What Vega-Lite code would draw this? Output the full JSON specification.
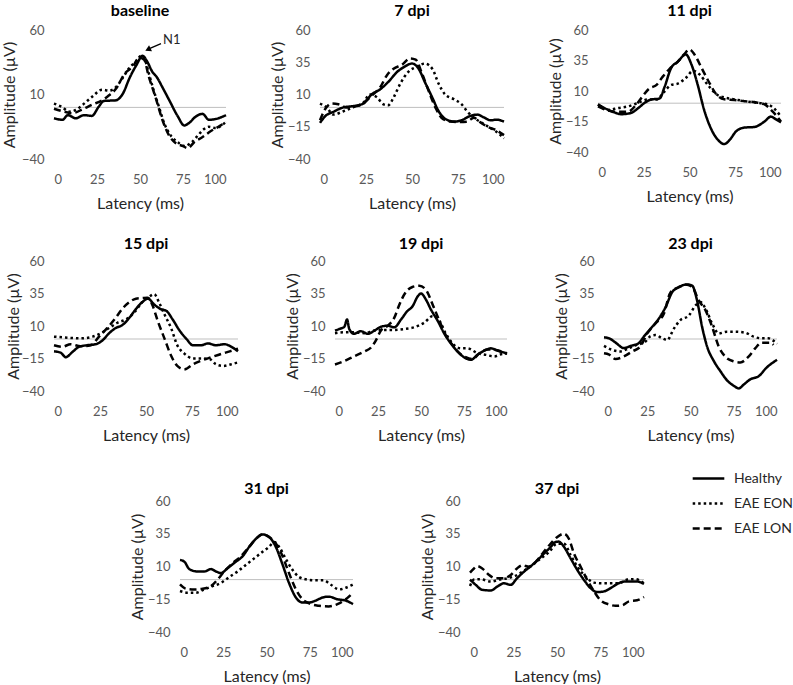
{
"$schema": "https://vega.github.io/schema/vega-lite/v6.json",
"padding": {"left": 1, "top": 3, "right": 0, "bottom": 0},
"background": "white",
"data": {"values": [
{"p":"baseline","g":"Healthy","x":0,"y":-8.4},{"p":"baseline","g":"Healthy","x":5,"y":-9.6},{"p":"baseline","g":"Healthy","x":8,"y":-6},{"p":"baseline","g":"Healthy","x":12.6,"y":-8.4},{"p":"baseline","g":"Healthy","x":17.5,"y":-6},{"p":"baseline","g":"Healthy","x":22,"y":-6.6},{"p":"baseline","g":"Healthy","x":26,"y":0.5},{"p":"baseline","g":"Healthy","x":29,"y":5},{"p":"baseline","g":"Healthy","x":36,"y":5.5},{"p":"baseline","g":"Healthy","x":40,"y":10.6},{"p":"baseline","g":"Healthy","x":44,"y":23},{"p":"baseline","g":"Healthy","x":48,"y":33},{"p":"baseline","g":"Healthy","x":51.5,"y":40},{"p":"baseline","g":"Healthy","x":54,"y":36},{"p":"baseline","g":"Healthy","x":57,"y":28},{"p":"baseline","g":"Healthy","x":60,"y":23},{"p":"baseline","g":"Healthy","x":63,"y":15.7},{"p":"baseline","g":"Healthy","x":67,"y":5.6},{"p":"baseline","g":"Healthy","x":72,"y":-7},{"p":"baseline","g":"Healthy","x":75.7,"y":-14},{"p":"baseline","g":"Healthy","x":78.6,"y":-12},{"p":"baseline","g":"Healthy","x":82.5,"y":-7},{"p":"baseline","g":"Healthy","x":86.4,"y":-5},{"p":"baseline","g":"Healthy","x":90,"y":-9.6},{"p":"baseline","g":"Healthy","x":94,"y":-9},{"p":"baseline","g":"Healthy","x":100,"y":-6},
{"p":"baseline","g":"EAE EON","x":0,"y":3},{"p":"baseline","g":"EAE EON","x":5,"y":0},{"p":"baseline","g":"EAE EON","x":8.7,"y":-3.3},{"p":"baseline","g":"EAE EON","x":12.6,"y":-2},{"p":"baseline","g":"EAE EON","x":16.5,"y":1.8},{"p":"baseline","g":"EAE EON","x":22,"y":8},{"p":"baseline","g":"EAE EON","x":28,"y":13.7},{"p":"baseline","g":"EAE EON","x":32,"y":13},{"p":"baseline","g":"EAE EON","x":36,"y":15.7},{"p":"baseline","g":"EAE EON","x":40,"y":23},{"p":"baseline","g":"EAE EON","x":44,"y":31},{"p":"baseline","g":"EAE EON","x":48,"y":36},{"p":"baseline","g":"EAE EON","x":50.5,"y":40},{"p":"baseline","g":"EAE EON","x":52.4,"y":38.5},{"p":"baseline","g":"EAE EON","x":55,"y":27},{"p":"baseline","g":"EAE EON","x":58,"y":13},{"p":"baseline","g":"EAE EON","x":61,"y":0.5},{"p":"baseline","g":"EAE EON","x":64,"y":-12},{"p":"baseline","g":"EAE EON","x":68,"y":-22},{"p":"baseline","g":"EAE EON","x":72,"y":-27},{"p":"baseline","g":"EAE EON","x":76,"y":-30},{"p":"baseline","g":"EAE EON","x":80,"y":-27},{"p":"baseline","g":"EAE EON","x":83.5,"y":-22},{"p":"baseline","g":"EAE EON","x":87,"y":-17},{"p":"baseline","g":"EAE EON","x":90,"y":-15},{"p":"baseline","g":"EAE EON","x":94,"y":-16},{"p":"baseline","g":"EAE EON","x":100,"y":-11},
{"p":"baseline","g":"EAE LON","x":0,"y":-1},{"p":"baseline","g":"EAE LON","x":5,"y":-3},{"p":"baseline","g":"EAE LON","x":10.7,"y":-4.5},{"p":"baseline","g":"EAE LON","x":16.5,"y":-1.5},{"p":"baseline","g":"EAE LON","x":22,"y":2},{"p":"baseline","g":"EAE LON","x":28,"y":5.5},{"p":"baseline","g":"EAE LON","x":32,"y":9.4},{"p":"baseline","g":"EAE LON","x":36,"y":14.4},{"p":"baseline","g":"EAE LON","x":41,"y":26},{"p":"baseline","g":"EAE LON","x":46,"y":32},{"p":"baseline","g":"EAE LON","x":49.5,"y":38.5},{"p":"baseline","g":"EAE LON","x":52.4,"y":37},{"p":"baseline","g":"EAE LON","x":55,"y":24.5},{"p":"baseline","g":"EAE LON","x":59,"y":8},{"p":"baseline","g":"EAE LON","x":63,"y":-9.6},{"p":"baseline","g":"EAE LON","x":67,"y":-22},{"p":"baseline","g":"EAE LON","x":71,"y":-28},{"p":"baseline","g":"EAE LON","x":75,"y":-30},{"p":"baseline","g":"EAE LON","x":77.7,"y":-31.6},{"p":"baseline","g":"EAE LON","x":81.5,"y":-27},{"p":"baseline","g":"EAE LON","x":86.4,"y":-23},{"p":"baseline","g":"EAE LON","x":91,"y":-18.5},{"p":"baseline","g":"EAE LON","x":96,"y":-14.7},{"p":"baseline","g":"EAE LON","x":100,"y":-11.4},
{"p":"7 dpi","g":"Healthy","x":0,"y":-12},{"p":"7 dpi","g":"Healthy","x":2.7,"y":-7},{"p":"7 dpi","g":"Healthy","x":7.3,"y":-3.4},{"p":"7 dpi","g":"Healthy","x":12.7,"y":0},{"p":"7 dpi","g":"Healthy","x":18,"y":1},{"p":"7 dpi","g":"Healthy","x":23.6,"y":3},{"p":"7 dpi","g":"Healthy","x":28,"y":10},{"p":"7 dpi","g":"Healthy","x":32.7,"y":14},{"p":"7 dpi","g":"Healthy","x":37,"y":19.6},{"p":"7 dpi","g":"Healthy","x":42,"y":27.6},{"p":"7 dpi","g":"Healthy","x":46,"y":31.6},{"p":"7 dpi","g":"Healthy","x":50,"y":34},{"p":"7 dpi","g":"Healthy","x":53.6,"y":30},{"p":"7 dpi","g":"Healthy","x":57,"y":19.6},{"p":"7 dpi","g":"Healthy","x":61,"y":7.7},{"p":"7 dpi","g":"Healthy","x":64.5,"y":-3},{"p":"7 dpi","g":"Healthy","x":68,"y":-8.8},{"p":"7 dpi","g":"Healthy","x":72.7,"y":-11},{"p":"7 dpi","g":"Healthy","x":77,"y":-10},{"p":"7 dpi","g":"Healthy","x":81,"y":-7},{"p":"7 dpi","g":"Healthy","x":85.5,"y":-5.6},{"p":"7 dpi","g":"Healthy","x":89,"y":-7.7},{"p":"7 dpi","g":"Healthy","x":92.7,"y":-10},{"p":"7 dpi","g":"Healthy","x":96,"y":-9.5},{"p":"7 dpi","g":"Healthy","x":100,"y":-11},
{"p":"7 dpi","g":"EAE EON","x":0,"y":3},{"p":"7 dpi","g":"EAE EON","x":3.6,"y":0},{"p":"7 dpi","g":"EAE EON","x":7.3,"y":-5.6},{"p":"7 dpi","g":"EAE EON","x":12.7,"y":-3},{"p":"7 dpi","g":"EAE EON","x":18,"y":0},{"p":"7 dpi","g":"EAE EON","x":23.6,"y":3.7},{"p":"7 dpi","g":"EAE EON","x":27,"y":10},{"p":"7 dpi","g":"EAE EON","x":31,"y":7.7},{"p":"7 dpi","g":"EAE EON","x":34.5,"y":2.4},{"p":"7 dpi","g":"EAE EON","x":37,"y":1.6},{"p":"7 dpi","g":"EAE EON","x":40,"y":7.7},{"p":"7 dpi","g":"EAE EON","x":43.6,"y":18.3},{"p":"7 dpi","g":"EAE EON","x":48,"y":27.6},{"p":"7 dpi","g":"EAE EON","x":52.7,"y":31.6},{"p":"7 dpi","g":"EAE EON","x":57,"y":34},{"p":"7 dpi","g":"EAE EON","x":61,"y":30},{"p":"7 dpi","g":"EAE EON","x":64.5,"y":18.3},{"p":"7 dpi","g":"EAE EON","x":68,"y":10},{"p":"7 dpi","g":"EAE EON","x":72.7,"y":6.4},{"p":"7 dpi","g":"EAE EON","x":77,"y":2.4},{"p":"7 dpi","g":"EAE EON","x":80,"y":-3},{"p":"7 dpi","g":"EAE EON","x":83.6,"y":-8},{"p":"7 dpi","g":"EAE EON","x":88,"y":-12},{"p":"7 dpi","g":"EAE EON","x":92.7,"y":-16},{"p":"7 dpi","g":"EAE EON","x":96,"y":-19},{"p":"7 dpi","g":"EAE EON","x":100,"y":-24},
{"p":"7 dpi","g":"EAE LON","x":0,"y":-10},{"p":"7 dpi","g":"EAE LON","x":2.7,"y":-1.6},{"p":"7 dpi","g":"EAE LON","x":6.4,"y":3},{"p":"7 dpi","g":"EAE LON","x":10,"y":2.4},{"p":"7 dpi","g":"EAE LON","x":14.5,"y":0},{"p":"7 dpi","g":"EAE LON","x":20,"y":1},{"p":"7 dpi","g":"EAE LON","x":24.5,"y":4.5},{"p":"7 dpi","g":"EAE LON","x":28,"y":9},{"p":"7 dpi","g":"EAE LON","x":32.7,"y":15.6},{"p":"7 dpi","g":"EAE LON","x":36.4,"y":25},{"p":"7 dpi","g":"EAE LON","x":40,"y":30},{"p":"7 dpi","g":"EAE LON","x":44.5,"y":33},{"p":"7 dpi","g":"EAE LON","x":49,"y":38},{"p":"7 dpi","g":"EAE LON","x":52,"y":37},{"p":"7 dpi","g":"EAE LON","x":55.5,"y":26},{"p":"7 dpi","g":"EAE LON","x":59,"y":13},{"p":"7 dpi","g":"EAE LON","x":62.7,"y":0},{"p":"7 dpi","g":"EAE LON","x":66,"y":-8},{"p":"7 dpi","g":"EAE LON","x":71,"y":-11},{"p":"7 dpi","g":"EAE LON","x":75.5,"y":-11.4},{"p":"7 dpi","g":"EAE LON","x":80,"y":-11},{"p":"7 dpi","g":"EAE LON","x":83.6,"y":-8},{"p":"7 dpi","g":"EAE LON","x":87,"y":-11.4},{"p":"7 dpi","g":"EAE LON","x":91,"y":-15},{"p":"7 dpi","g":"EAE LON","x":95.5,"y":-17.5},{"p":"7 dpi","g":"EAE LON","x":100,"y":-21.5},
{"p":"11 dpi","g":"Healthy","x":0,"y":-1},{"p":"11 dpi","g":"Healthy","x":3.6,"y":-4},{"p":"11 dpi","g":"Healthy","x":8,"y":-7},{"p":"11 dpi","g":"Healthy","x":12.7,"y":-9},{"p":"11 dpi","g":"Healthy","x":18,"y":-8},{"p":"11 dpi","g":"Healthy","x":22,"y":-4},{"p":"11 dpi","g":"Healthy","x":25.5,"y":0.3},{"p":"11 dpi","g":"Healthy","x":29,"y":3},{"p":"11 dpi","g":"Healthy","x":33.6,"y":3.8},{"p":"11 dpi","g":"Healthy","x":36.4,"y":13.4},{"p":"11 dpi","g":"Healthy","x":40,"y":29},{"p":"11 dpi","g":"Healthy","x":43.6,"y":34},{"p":"11 dpi","g":"Healthy","x":48,"y":40},{"p":"11 dpi","g":"Healthy","x":51,"y":32},{"p":"11 dpi","g":"Healthy","x":54.5,"y":15},{"p":"11 dpi","g":"Healthy","x":58,"y":-5.5},{"p":"11 dpi","g":"Healthy","x":62,"y":-21.6},{"p":"11 dpi","g":"Healthy","x":65.5,"y":-30},{"p":"11 dpi","g":"Healthy","x":69,"y":-33.5},{"p":"11 dpi","g":"Healthy","x":72,"y":-30},{"p":"11 dpi","g":"Healthy","x":75.5,"y":-23},{"p":"11 dpi","g":"Healthy","x":80,"y":-20},{"p":"11 dpi","g":"Healthy","x":85.5,"y":-19.5},{"p":"11 dpi","g":"Healthy","x":91,"y":-15},{"p":"11 dpi","g":"Healthy","x":94.5,"y":-11},{"p":"11 dpi","g":"Healthy","x":97,"y":-13},{"p":"11 dpi","g":"Healthy","x":100,"y":-15.7},
{"p":"11 dpi","g":"EAE EON","x":0,"y":-1},{"p":"11 dpi","g":"EAE EON","x":5.5,"y":-5.5},{"p":"11 dpi","g":"EAE EON","x":11,"y":-4},{"p":"11 dpi","g":"EAE EON","x":16.4,"y":-2.6},{"p":"11 dpi","g":"EAE EON","x":22,"y":0.3},{"p":"11 dpi","g":"EAE EON","x":27,"y":3},{"p":"11 dpi","g":"EAE EON","x":32,"y":3},{"p":"11 dpi","g":"EAE EON","x":36,"y":9},{"p":"11 dpi","g":"EAE EON","x":40,"y":15},{"p":"11 dpi","g":"EAE EON","x":43.6,"y":16},{"p":"11 dpi","g":"EAE EON","x":48,"y":20.7},{"p":"11 dpi","g":"EAE EON","x":52,"y":26.5},{"p":"11 dpi","g":"EAE EON","x":55.5,"y":23.6},{"p":"11 dpi","g":"EAE EON","x":60,"y":15},{"p":"11 dpi","g":"EAE EON","x":64.5,"y":7.6},{"p":"11 dpi","g":"EAE EON","x":69,"y":4.7},{"p":"11 dpi","g":"EAE EON","x":74.5,"y":3.2},{"p":"11 dpi","g":"EAE EON","x":80,"y":1.7},{"p":"11 dpi","g":"EAE EON","x":87,"y":0.3},{"p":"11 dpi","g":"EAE EON","x":92.7,"y":-1},{"p":"11 dpi","g":"EAE EON","x":97,"y":-5.5},{"p":"11 dpi","g":"EAE EON","x":100,"y":-11},
{"p":"11 dpi","g":"EAE LON","x":0,"y":-2.6},{"p":"11 dpi","g":"EAE LON","x":5.5,"y":-6},{"p":"11 dpi","g":"EAE LON","x":11,"y":-7},{"p":"11 dpi","g":"EAE LON","x":16.4,"y":-7},{"p":"11 dpi","g":"EAE LON","x":21,"y":-1},{"p":"11 dpi","g":"EAE LON","x":24.5,"y":6},{"p":"11 dpi","g":"EAE LON","x":28,"y":12},{"p":"11 dpi","g":"EAE LON","x":32,"y":15},{"p":"11 dpi","g":"EAE LON","x":35.5,"y":22},{"p":"11 dpi","g":"EAE LON","x":39,"y":28},{"p":"11 dpi","g":"EAE LON","x":43.6,"y":34},{"p":"11 dpi","g":"EAE LON","x":47,"y":40},{"p":"11 dpi","g":"EAE LON","x":50,"y":44},{"p":"11 dpi","g":"EAE LON","x":52.7,"y":40},{"p":"11 dpi","g":"EAE LON","x":56.4,"y":29.5},{"p":"11 dpi","g":"EAE LON","x":61,"y":16.3},{"p":"11 dpi","g":"EAE LON","x":64.5,"y":7.6},{"p":"11 dpi","g":"EAE LON","x":69,"y":3.2},{"p":"11 dpi","g":"EAE LON","x":74.5,"y":2.6},{"p":"11 dpi","g":"EAE LON","x":80,"y":1.7},{"p":"11 dpi","g":"EAE LON","x":85.5,"y":0.9},{"p":"11 dpi","g":"EAE LON","x":91,"y":-1},{"p":"11 dpi","g":"EAE LON","x":95.5,"y":-7},{"p":"11 dpi","g":"EAE LON","x":100,"y":-15},
{"p":"15 dpi","g":"Healthy","x":0,"y":-9.5},{"p":"15 dpi","g":"Healthy","x":3.6,"y":-10.5},{"p":"15 dpi","g":"Healthy","x":6.4,"y":-14},{"p":"15 dpi","g":"Healthy","x":10,"y":-10},{"p":"15 dpi","g":"Healthy","x":13.6,"y":-6},{"p":"15 dpi","g":"Healthy","x":18,"y":-4.8},{"p":"15 dpi","g":"Healthy","x":22.7,"y":-4},{"p":"15 dpi","g":"Healthy","x":26.4,"y":-1},{"p":"15 dpi","g":"Healthy","x":30,"y":4.5},{"p":"15 dpi","g":"Healthy","x":33.6,"y":8.5},{"p":"15 dpi","g":"Healthy","x":37,"y":10.6},{"p":"15 dpi","g":"Healthy","x":41,"y":16.4},{"p":"15 dpi","g":"Healthy","x":44.5,"y":23},{"p":"15 dpi","g":"Healthy","x":48,"y":28.4},{"p":"15 dpi","g":"Healthy","x":51,"y":31},{"p":"15 dpi","g":"Healthy","x":54.5,"y":26.5},{"p":"15 dpi","g":"Healthy","x":58,"y":23},{"p":"15 dpi","g":"Healthy","x":61,"y":21.7},{"p":"15 dpi","g":"Healthy","x":64.5,"y":15},{"p":"15 dpi","g":"Healthy","x":68,"y":7},{"p":"15 dpi","g":"Healthy","x":72,"y":0},{"p":"15 dpi","g":"Healthy","x":75.5,"y":-4.8},{"p":"15 dpi","g":"Healthy","x":80,"y":-4.8},{"p":"15 dpi","g":"Healthy","x":83.6,"y":-3.4},{"p":"15 dpi","g":"Healthy","x":88,"y":-4.8},{"p":"15 dpi","g":"Healthy","x":92.7,"y":-4},{"p":"15 dpi","g":"Healthy","x":96.4,"y":-6},{"p":"15 dpi","g":"Healthy","x":100,"y":-9.5},
{"p":"15 dpi","g":"EAE EON","x":0,"y":1.8},{"p":"15 dpi","g":"EAE EON","x":7.3,"y":1},{"p":"15 dpi","g":"EAE EON","x":14.5,"y":0.5},{"p":"15 dpi","g":"EAE EON","x":21,"y":1.8},{"p":"15 dpi","g":"EAE EON","x":25.5,"y":4.5},{"p":"15 dpi","g":"EAE EON","x":30,"y":8.5},{"p":"15 dpi","g":"EAE EON","x":34.5,"y":12.5},{"p":"15 dpi","g":"EAE EON","x":39,"y":15},{"p":"15 dpi","g":"EAE EON","x":43.6,"y":20.4},{"p":"15 dpi","g":"EAE EON","x":48,"y":28.4},{"p":"15 dpi","g":"EAE EON","x":51.6,"y":32.4},{"p":"15 dpi","g":"EAE EON","x":54.5,"y":34.5},{"p":"15 dpi","g":"EAE EON","x":57,"y":28.4},{"p":"15 dpi","g":"EAE EON","x":60,"y":19},{"p":"15 dpi","g":"EAE EON","x":63.6,"y":8.5},{"p":"15 dpi","g":"EAE EON","x":67,"y":-4.8},{"p":"15 dpi","g":"EAE EON","x":71,"y":-11.4},{"p":"15 dpi","g":"EAE EON","x":75.5,"y":-15},{"p":"15 dpi","g":"EAE EON","x":80,"y":-15},{"p":"15 dpi","g":"EAE EON","x":84.5,"y":-15.4},{"p":"15 dpi","g":"EAE EON","x":88,"y":-19.4},{"p":"15 dpi","g":"EAE EON","x":92,"y":-20.7},{"p":"15 dpi","g":"EAE EON","x":96.4,"y":-19.4},{"p":"15 dpi","g":"EAE EON","x":100,"y":-18},
{"p":"15 dpi","g":"EAE LON","x":0,"y":-4.8},{"p":"15 dpi","g":"EAE LON","x":4.5,"y":-6},{"p":"15 dpi","g":"EAE LON","x":9,"y":-4},{"p":"15 dpi","g":"EAE LON","x":14.5,"y":-5.6},{"p":"15 dpi","g":"EAE LON","x":20,"y":-4.8},{"p":"15 dpi","g":"EAE LON","x":24.5,"y":1.8},{"p":"15 dpi","g":"EAE LON","x":29,"y":8.5},{"p":"15 dpi","g":"EAE LON","x":33.6,"y":16.4},{"p":"15 dpi","g":"EAE LON","x":37,"y":23},{"p":"15 dpi","g":"EAE LON","x":41,"y":28.4},{"p":"15 dpi","g":"EAE LON","x":44.5,"y":31},{"p":"15 dpi","g":"EAE LON","x":48,"y":31.5},{"p":"15 dpi","g":"EAE LON","x":51,"y":31.8},{"p":"15 dpi","g":"EAE LON","x":53.6,"y":25.7},{"p":"15 dpi","g":"EAE LON","x":56.4,"y":13.8},{"p":"15 dpi","g":"EAE LON","x":60,"y":0.5},{"p":"15 dpi","g":"EAE LON","x":63.6,"y":-12.7},{"p":"15 dpi","g":"EAE LON","x":67,"y":-20.7},{"p":"15 dpi","g":"EAE LON","x":71,"y":-23.3},{"p":"15 dpi","g":"EAE LON","x":75.5,"y":-19.4},{"p":"15 dpi","g":"EAE LON","x":80,"y":-16.7},{"p":"15 dpi","g":"EAE LON","x":85.5,"y":-14},{"p":"15 dpi","g":"EAE LON","x":91,"y":-11.4},{"p":"15 dpi","g":"EAE LON","x":95.5,"y":-9.5},{"p":"15 dpi","g":"EAE LON","x":100,"y":-7.4},
{"p":"19 dpi","g":"Healthy","x":0,"y":6.5},{"p":"19 dpi","g":"Healthy","x":2.5,"y":7.7},{"p":"19 dpi","g":"Healthy","x":5.4,"y":9.4},{"p":"19 dpi","g":"Healthy","x":7,"y":15},{"p":"19 dpi","g":"Healthy","x":8.3,"y":7.7},{"p":"19 dpi","g":"Healthy","x":11,"y":4},{"p":"19 dpi","g":"Healthy","x":15,"y":6},{"p":"19 dpi","g":"Healthy","x":19,"y":4},{"p":"19 dpi","g":"Healthy","x":23,"y":6.5},{"p":"19 dpi","g":"Healthy","x":26.7,"y":9.4},{"p":"19 dpi","g":"Healthy","x":30.6,"y":10.2},{"p":"19 dpi","g":"Healthy","x":34.5,"y":9},{"p":"19 dpi","g":"Healthy","x":38.4,"y":15},{"p":"19 dpi","g":"Healthy","x":42,"y":21.4},{"p":"19 dpi","g":"Healthy","x":45,"y":25},{"p":"19 dpi","g":"Healthy","x":48,"y":32.6},{"p":"19 dpi","g":"Healthy","x":50,"y":35},{"p":"19 dpi","g":"Healthy","x":53,"y":30},{"p":"19 dpi","g":"Healthy","x":55.8,"y":22.6},{"p":"19 dpi","g":"Healthy","x":59.7,"y":14},{"p":"19 dpi","g":"Healthy","x":63.6,"y":4},{"p":"19 dpi","g":"Healthy","x":67.4,"y":-3.5},{"p":"19 dpi","g":"Healthy","x":71.3,"y":-9.7},{"p":"19 dpi","g":"Healthy","x":75,"y":-14},{"p":"19 dpi","g":"Healthy","x":79,"y":-16},{"p":"19 dpi","g":"Healthy","x":83,"y":-12},{"p":"19 dpi","g":"Healthy","x":86.8,"y":-9},{"p":"19 dpi","g":"Healthy","x":90.7,"y":-7.2},{"p":"19 dpi","g":"Healthy","x":94.6,"y":-9},{"p":"19 dpi","g":"Healthy","x":100,"y":-11},
{"p":"19 dpi","g":"EAE EON","x":0,"y":4.5},{"p":"19 dpi","g":"EAE EON","x":5.4,"y":5.2},{"p":"19 dpi","g":"EAE EON","x":11,"y":5.2},{"p":"19 dpi","g":"EAE EON","x":17,"y":4.5},{"p":"19 dpi","g":"EAE EON","x":23,"y":6.5},{"p":"19 dpi","g":"EAE EON","x":28.7,"y":7},{"p":"19 dpi","g":"EAE EON","x":34.5,"y":7},{"p":"19 dpi","g":"EAE EON","x":40.3,"y":7.7},{"p":"19 dpi","g":"EAE EON","x":46,"y":9},{"p":"19 dpi","g":"EAE EON","x":52,"y":12.7},{"p":"19 dpi","g":"EAE EON","x":56.8,"y":17.6},{"p":"19 dpi","g":"EAE EON","x":60.7,"y":14},{"p":"19 dpi","g":"EAE EON","x":64.5,"y":4},{"p":"19 dpi","g":"EAE EON","x":68.4,"y":-3.5},{"p":"19 dpi","g":"EAE EON","x":73,"y":-7.2},{"p":"19 dpi","g":"EAE EON","x":77,"y":-7.2},{"p":"19 dpi","g":"EAE EON","x":83,"y":-11},{"p":"19 dpi","g":"EAE EON","x":87.8,"y":-12.2},{"p":"19 dpi","g":"EAE EON","x":92.6,"y":-13.4},{"p":"19 dpi","g":"EAE EON","x":96.5,"y":-11.7},{"p":"19 dpi","g":"EAE EON","x":100,"y":-11},
{"p":"19 dpi","g":"EAE LON","x":0,"y":-19.6},{"p":"19 dpi","g":"EAE LON","x":5.4,"y":-17},{"p":"19 dpi","g":"EAE LON","x":11,"y":-13.4},{"p":"19 dpi","g":"EAE LON","x":17,"y":-9.7},{"p":"19 dpi","g":"EAE LON","x":21,"y":-6.5},{"p":"19 dpi","g":"EAE LON","x":23.8,"y":-1},{"p":"19 dpi","g":"EAE LON","x":26.7,"y":6.5},{"p":"19 dpi","g":"EAE LON","x":30.6,"y":10.2},{"p":"19 dpi","g":"EAE LON","x":34.5,"y":16.4},{"p":"19 dpi","g":"EAE LON","x":37.4,"y":26.4},{"p":"19 dpi","g":"EAE LON","x":41.3,"y":36.3},{"p":"19 dpi","g":"EAE LON","x":45,"y":40},{"p":"19 dpi","g":"EAE LON","x":49,"y":41},{"p":"19 dpi","g":"EAE LON","x":53,"y":37.6},{"p":"19 dpi","g":"EAE LON","x":56.8,"y":26.4},{"p":"19 dpi","g":"EAE LON","x":60.7,"y":14},{"p":"19 dpi","g":"EAE LON","x":64.5,"y":2.7},{"p":"19 dpi","g":"EAE LON","x":68.4,"y":-4.7},{"p":"19 dpi","g":"EAE LON","x":72.3,"y":-11},{"p":"19 dpi","g":"EAE LON","x":76,"y":-14},{"p":"19 dpi","g":"EAE LON","x":80,"y":-15.4},{"p":"19 dpi","g":"EAE LON","x":84,"y":-11},{"p":"19 dpi","g":"EAE LON","x":88.8,"y":-8},{"p":"19 dpi","g":"EAE LON","x":93.6,"y":-8.5},{"p":"19 dpi","g":"EAE LON","x":100,"y":-11.5},
{"p":"23 dpi","g":"Healthy","x":0,"y":1.3},{"p":"23 dpi","g":"Healthy","x":3,"y":0.5},{"p":"23 dpi","g":"Healthy","x":6.7,"y":-2.8},{"p":"23 dpi","g":"Healthy","x":11.5,"y":-7},{"p":"23 dpi","g":"Healthy","x":15.4,"y":-5.3},{"p":"23 dpi","g":"Healthy","x":20,"y":-3.3},{"p":"23 dpi","g":"Healthy","x":23,"y":1.8},{"p":"23 dpi","g":"Healthy","x":27,"y":8},{"p":"23 dpi","g":"Healthy","x":31.7,"y":15.7},{"p":"23 dpi","g":"Healthy","x":35.6,"y":24.5},{"p":"23 dpi","g":"Healthy","x":39.4,"y":36},{"p":"23 dpi","g":"Healthy","x":43,"y":39.7},{"p":"23 dpi","g":"Healthy","x":48,"y":42},{"p":"23 dpi","g":"Healthy","x":51,"y":41},{"p":"23 dpi","g":"Healthy","x":53.8,"y":29.6},{"p":"23 dpi","g":"Healthy","x":56.7,"y":9.4},{"p":"23 dpi","g":"Healthy","x":59.6,"y":-5.8},{"p":"23 dpi","g":"Healthy","x":63.5,"y":-17},{"p":"23 dpi","g":"Healthy","x":67.3,"y":-24.8},{"p":"23 dpi","g":"Healthy","x":71,"y":-31.6},{"p":"23 dpi","g":"Healthy","x":75,"y":-36},{"p":"23 dpi","g":"Healthy","x":77.9,"y":-38},{"p":"23 dpi","g":"Healthy","x":80.8,"y":-35},{"p":"23 dpi","g":"Healthy","x":84.6,"y":-31},{"p":"23 dpi","g":"Healthy","x":89.4,"y":-28.6},{"p":"23 dpi","g":"Healthy","x":94,"y":-22},{"p":"23 dpi","g":"Healthy","x":100,"y":-16},
{"p":"23 dpi","g":"EAE EON","x":0,"y":-5.3},{"p":"23 dpi","g":"EAE EON","x":4.8,"y":-8.4},{"p":"23 dpi","g":"EAE EON","x":9.6,"y":-9.6},{"p":"23 dpi","g":"EAE EON","x":14.4,"y":-7},{"p":"23 dpi","g":"EAE EON","x":19,"y":-4.5},{"p":"23 dpi","g":"EAE EON","x":24,"y":-2},{"p":"23 dpi","g":"EAE EON","x":27,"y":2.3},{"p":"23 dpi","g":"EAE EON","x":29.8,"y":3},{"p":"23 dpi","g":"EAE EON","x":33.7,"y":0.5},{"p":"23 dpi","g":"EAE EON","x":36.5,"y":-0.8},{"p":"23 dpi","g":"EAE EON","x":40.4,"y":8},{"p":"23 dpi","g":"EAE EON","x":44,"y":14.4},{"p":"23 dpi","g":"EAE EON","x":49,"y":18},{"p":"23 dpi","g":"EAE EON","x":52.9,"y":25.8},{"p":"23 dpi","g":"EAE EON","x":55.8,"y":28.4},{"p":"23 dpi","g":"EAE EON","x":58.7,"y":23.3},{"p":"23 dpi","g":"EAE EON","x":62.5,"y":12},{"p":"23 dpi","g":"EAE EON","x":66.3,"y":4.3},{"p":"23 dpi","g":"EAE EON","x":71,"y":5.6},{"p":"23 dpi","g":"EAE EON","x":76,"y":5.6},{"p":"23 dpi","g":"EAE EON","x":81.7,"y":4.8},{"p":"23 dpi","g":"EAE EON","x":86.5,"y":1.8},{"p":"23 dpi","g":"EAE EON","x":91.3,"y":0.5},{"p":"23 dpi","g":"EAE EON","x":95,"y":0.5},{"p":"23 dpi","g":"EAE EON","x":100,"y":-3.8},
{"p":"23 dpi","g":"EAE LON","x":0,"y":-11},{"p":"23 dpi","g":"EAE LON","x":3,"y":-12},{"p":"23 dpi","g":"EAE LON","x":6.7,"y":-15.4},{"p":"23 dpi","g":"EAE LON","x":11.5,"y":-13.4},{"p":"23 dpi","g":"EAE LON","x":16.3,"y":-9.6},{"p":"23 dpi","g":"EAE LON","x":21,"y":-5.8},{"p":"23 dpi","g":"EAE LON","x":25,"y":4.3},{"p":"23 dpi","g":"EAE LON","x":29.8,"y":12},{"p":"23 dpi","g":"EAE LON","x":34.6,"y":19.5},{"p":"23 dpi","g":"EAE LON","x":38.5,"y":36},{"p":"23 dpi","g":"EAE LON","x":43,"y":39.7},{"p":"23 dpi","g":"EAE LON","x":48,"y":41.8},{"p":"23 dpi","g":"EAE LON","x":51,"y":40},{"p":"23 dpi","g":"EAE LON","x":54.8,"y":29.6},{"p":"23 dpi","g":"EAE LON","x":58.7,"y":22},{"p":"23 dpi","g":"EAE LON","x":62.5,"y":9.4},{"p":"23 dpi","g":"EAE LON","x":66.3,"y":-5.8},{"p":"23 dpi","g":"EAE LON","x":70,"y":-13.4},{"p":"23 dpi","g":"EAE LON","x":75,"y":-17.2},{"p":"23 dpi","g":"EAE LON","x":78.8,"y":-18},{"p":"23 dpi","g":"EAE LON","x":83.7,"y":-13.4},{"p":"23 dpi","g":"EAE LON","x":87.5,"y":-7},{"p":"23 dpi","g":"EAE LON","x":91.3,"y":-2.8},{"p":"23 dpi","g":"EAE LON","x":96,"y":-2.8},{"p":"23 dpi","g":"EAE LON","x":98,"y":-4.5},
{"p":"31 dpi","g":"Healthy","x":0,"y":15},{"p":"31 dpi","g":"Healthy","x":2.5,"y":13.7},{"p":"31 dpi","g":"Healthy","x":5.4,"y":8},{"p":"31 dpi","g":"Healthy","x":10,"y":6.2},{"p":"31 dpi","g":"Healthy","x":14,"y":6.2},{"p":"31 dpi","g":"Healthy","x":17.9,"y":8},{"p":"31 dpi","g":"Healthy","x":20.8,"y":6.2},{"p":"31 dpi","g":"Healthy","x":23.7,"y":5},{"p":"31 dpi","g":"Healthy","x":27.5,"y":8.7},{"p":"31 dpi","g":"Healthy","x":32.3,"y":13.7},{"p":"31 dpi","g":"Healthy","x":36,"y":17.5},{"p":"31 dpi","g":"Healthy","x":40,"y":25},{"p":"31 dpi","g":"Healthy","x":43.8,"y":31},{"p":"31 dpi","g":"Healthy","x":47.7,"y":34.5},{"p":"31 dpi","g":"Healthy","x":51.5,"y":32.5},{"p":"31 dpi","g":"Healthy","x":55.4,"y":25},{"p":"31 dpi","g":"Healthy","x":59,"y":12.5},{"p":"31 dpi","g":"Healthy","x":63,"y":-2.5},{"p":"31 dpi","g":"Healthy","x":67,"y":-13.7},{"p":"31 dpi","g":"Healthy","x":70.8,"y":-17.5},{"p":"31 dpi","g":"Healthy","x":74.6,"y":-17.5},{"p":"31 dpi","g":"Healthy","x":78.5,"y":-16},{"p":"31 dpi","g":"Healthy","x":82.3,"y":-13.7},{"p":"31 dpi","g":"Healthy","x":86,"y":-13},{"p":"31 dpi","g":"Healthy","x":91,"y":-15},{"p":"31 dpi","g":"Healthy","x":95.8,"y":-16},{"p":"31 dpi","g":"Healthy","x":100,"y":-18.7},
{"p":"31 dpi","g":"EAE EON","x":0,"y":-8.7},{"p":"31 dpi","g":"EAE EON","x":4.4,"y":-10},{"p":"31 dpi","g":"EAE EON","x":9.2,"y":-10},{"p":"31 dpi","g":"EAE EON","x":14,"y":-7.5},{"p":"31 dpi","g":"EAE EON","x":18.8,"y":-5},{"p":"31 dpi","g":"EAE EON","x":23.7,"y":-2.5},{"p":"31 dpi","g":"EAE EON","x":28.5,"y":2},{"p":"31 dpi","g":"EAE EON","x":33.3,"y":6.2},{"p":"31 dpi","g":"EAE EON","x":38,"y":11.2},{"p":"31 dpi","g":"EAE EON","x":42.9,"y":16.2},{"p":"31 dpi","g":"EAE EON","x":47.7,"y":21.2},{"p":"31 dpi","g":"EAE EON","x":51.5,"y":25},{"p":"31 dpi","g":"EAE EON","x":54.4,"y":28.7},{"p":"31 dpi","g":"EAE EON","x":57.3,"y":25},{"p":"31 dpi","g":"EAE EON","x":61,"y":16.2},{"p":"31 dpi","g":"EAE EON","x":65,"y":7.5},{"p":"31 dpi","g":"EAE EON","x":68.8,"y":2},{"p":"31 dpi","g":"EAE EON","x":73.6,"y":0},{"p":"31 dpi","g":"EAE EON","x":78.5,"y":-0.5},{"p":"31 dpi","g":"EAE EON","x":83,"y":-0.5},{"p":"31 dpi","g":"EAE EON","x":87,"y":-3.7},{"p":"31 dpi","g":"EAE EON","x":92,"y":-7.5},{"p":"31 dpi","g":"EAE EON","x":95.8,"y":-6.2},{"p":"31 dpi","g":"EAE EON","x":100,"y":-3.7},
{"p":"31 dpi","g":"EAE LON","x":0,"y":-3.7},{"p":"31 dpi","g":"EAE LON","x":3.5,"y":-7},{"p":"31 dpi","g":"EAE LON","x":8.3,"y":-7.5},{"p":"31 dpi","g":"EAE LON","x":13,"y":-7},{"p":"31 dpi","g":"EAE LON","x":17.9,"y":-5},{"p":"31 dpi","g":"EAE LON","x":21.7,"y":0},{"p":"31 dpi","g":"EAE LON","x":25.6,"y":6.2},{"p":"31 dpi","g":"EAE LON","x":30.4,"y":12.5},{"p":"31 dpi","g":"EAE LON","x":35,"y":17.5},{"p":"31 dpi","g":"EAE LON","x":40,"y":25},{"p":"31 dpi","g":"EAE LON","x":43.8,"y":31},{"p":"31 dpi","g":"EAE LON","x":47.7,"y":34.5},{"p":"31 dpi","g":"EAE LON","x":51.5,"y":32.5},{"p":"31 dpi","g":"EAE LON","x":55.4,"y":27.5},{"p":"31 dpi","g":"EAE LON","x":59,"y":18.7},{"p":"31 dpi","g":"EAE LON","x":63,"y":5},{"p":"31 dpi","g":"EAE LON","x":67,"y":-7.5},{"p":"31 dpi","g":"EAE LON","x":70.8,"y":-15},{"p":"31 dpi","g":"EAE LON","x":75.6,"y":-18.7},{"p":"31 dpi","g":"EAE LON","x":80.4,"y":-20},{"p":"31 dpi","g":"EAE LON","x":86,"y":-20.5},{"p":"31 dpi","g":"EAE LON","x":91,"y":-18.7},{"p":"31 dpi","g":"EAE LON","x":95.8,"y":-15},{"p":"31 dpi","g":"EAE LON","x":100,"y":-10},
{"p":"37 dpi","g":"Healthy","x":0,"y":0},{"p":"37 dpi","g":"Healthy","x":3.3,"y":-4},{"p":"37 dpi","g":"Healthy","x":7,"y":-7.8},{"p":"37 dpi","g":"Healthy","x":12,"y":-8.3},{"p":"37 dpi","g":"Healthy","x":15.7,"y":-5.3},{"p":"37 dpi","g":"Healthy","x":19.5,"y":-2.8},{"p":"37 dpi","g":"Healthy","x":23.4,"y":-4},{"p":"37 dpi","g":"Healthy","x":27,"y":1},{"p":"37 dpi","g":"Healthy","x":31,"y":6},{"p":"37 dpi","g":"Healthy","x":35,"y":10.3},{"p":"37 dpi","g":"Healthy","x":38.7,"y":14.8},{"p":"37 dpi","g":"Healthy","x":42.5,"y":19.8},{"p":"37 dpi","g":"Healthy","x":46.4,"y":25},{"p":"37 dpi","g":"Healthy","x":49,"y":28.6},{"p":"37 dpi","g":"Healthy","x":51,"y":29},{"p":"37 dpi","g":"Healthy","x":54,"y":25},{"p":"37 dpi","g":"Healthy","x":57.9,"y":16},{"p":"37 dpi","g":"Healthy","x":61.7,"y":7.3},{"p":"37 dpi","g":"Healthy","x":65.5,"y":-0.3},{"p":"37 dpi","g":"Healthy","x":69.3,"y":-6.5},{"p":"37 dpi","g":"Healthy","x":73,"y":-9.5},{"p":"37 dpi","g":"Healthy","x":77,"y":-9},{"p":"37 dpi","g":"Healthy","x":80.8,"y":-6.5},{"p":"37 dpi","g":"Healthy","x":84.7,"y":-3.3},{"p":"37 dpi","g":"Healthy","x":88.5,"y":-1.5},{"p":"37 dpi","g":"Healthy","x":92.3,"y":-1.5},{"p":"37 dpi","g":"Healthy","x":96,"y":-1.5},{"p":"37 dpi","g":"Healthy","x":100,"y":-3.3},
{"p":"37 dpi","g":"EAE EON","x":0,"y":-4.8},{"p":"37 dpi","g":"EAE EON","x":2.3,"y":0},{"p":"37 dpi","g":"EAE EON","x":6,"y":0.3},{"p":"37 dpi","g":"EAE EON","x":12,"y":-1.5},{"p":"37 dpi","g":"EAE EON","x":16.7,"y":0},{"p":"37 dpi","g":"EAE EON","x":21.5,"y":1},{"p":"37 dpi","g":"EAE EON","x":26,"y":2.8},{"p":"37 dpi","g":"EAE EON","x":31,"y":6.8},{"p":"37 dpi","g":"EAE EON","x":35.6,"y":11},{"p":"37 dpi","g":"EAE EON","x":40.6,"y":16},{"p":"37 dpi","g":"EAE EON","x":45.4,"y":21},{"p":"37 dpi","g":"EAE EON","x":50,"y":27.4},{"p":"37 dpi","g":"EAE EON","x":54,"y":27.4},{"p":"37 dpi","g":"EAE EON","x":57.9,"y":18.6},{"p":"37 dpi","g":"EAE EON","x":61.7,"y":9.8},{"p":"37 dpi","g":"EAE EON","x":66.5,"y":2.3},{"p":"37 dpi","g":"EAE EON","x":71.3,"y":-2.3},{"p":"37 dpi","g":"EAE EON","x":76,"y":-2.8},{"p":"37 dpi","g":"EAE EON","x":80.8,"y":-2.8},{"p":"37 dpi","g":"EAE EON","x":85.6,"y":-2.8},{"p":"37 dpi","g":"EAE EON","x":90.4,"y":0},{"p":"37 dpi","g":"EAE EON","x":95,"y":0.3},{"p":"37 dpi","g":"EAE EON","x":100,"y":-2.8},
{"p":"37 dpi","g":"EAE LON","x":0,"y":5.3},{"p":"37 dpi","g":"EAE LON","x":2.3,"y":8.5},{"p":"37 dpi","g":"EAE LON","x":4.2,"y":10.3},{"p":"37 dpi","g":"EAE LON","x":7,"y":8.5},{"p":"37 dpi","g":"EAE LON","x":11,"y":3.5},{"p":"37 dpi","g":"EAE LON","x":14.8,"y":1},{"p":"37 dpi","g":"EAE LON","x":19.5,"y":1},{"p":"37 dpi","g":"EAE LON","x":23.4,"y":3.5},{"p":"37 dpi","g":"EAE LON","x":27,"y":8.5},{"p":"37 dpi","g":"EAE LON","x":30,"y":11},{"p":"37 dpi","g":"EAE LON","x":34,"y":9.8},{"p":"37 dpi","g":"EAE LON","x":37.9,"y":13.6},{"p":"37 dpi","g":"EAE LON","x":41.6,"y":19.8},{"p":"37 dpi","g":"EAE LON","x":45.4,"y":26},{"p":"37 dpi","g":"EAE LON","x":50,"y":32.4},{"p":"37 dpi","g":"EAE LON","x":54,"y":35},{"p":"37 dpi","g":"EAE LON","x":56.9,"y":31},{"p":"37 dpi","g":"EAE LON","x":59.8,"y":19.8},{"p":"37 dpi","g":"EAE LON","x":63.6,"y":9.8},{"p":"37 dpi","g":"EAE LON","x":67.4,"y":-0.3},{"p":"37 dpi","g":"EAE LON","x":71.3,"y":-9},{"p":"37 dpi","g":"EAE LON","x":75,"y":-15.8},{"p":"37 dpi","g":"EAE LON","x":80,"y":-19},{"p":"37 dpi","g":"EAE LON","x":83.7,"y":-20},{"p":"37 dpi","g":"EAE LON","x":87.5,"y":-19.6},{"p":"37 dpi","g":"EAE LON","x":91.4,"y":-16.6},{"p":"37 dpi","g":"EAE LON","x":96,"y":-15.8},{"p":"37 dpi","g":"EAE LON","x":100,"y":-13.3}
]},
"config": {
  "view": {"stroke": null},
  "font": "Lato",
  "axis": {"domain": false, "ticks": false, "grid": false, "labelOverlap": false, "labelFont": "Lato", "labelFontSize": 13, "labelColor": "#595959", "titleFont": "Lato", "titleFontSize": 16, "titleFontWeight": "normal", "titleColor": "#262626"},
  "axisX": {"labelPadding": 14, "titlePadding": 9},
  "axisY": {"labelPadding": 10, "titlePadding": 2},
  "title": {"font": "Lato", "fontSize": 16, "fontWeight": "bold", "color": "black", "frame": "group", "anchor": "middle"},
  "line": {"color": "black", "strokeWidth": 2.5, "interpolate": "monotone"}
},
"spacing": 38,
"vconcat": [
 {"spacing": 25, "vconcat": [
  {"spacing": 38, "hconcat": [
   {"width": 172, "height": 129, "title": {"text": "baseline", "offset": 5},
    "layer": [
     {"data": {"values": [{"zero": 0}]}, "mark": {"type": "rule", "color": "#bfbfbf", "strokeWidth": 1}, "encoding": {"x": {"datum": 0, "type": "quantitative", "scale": {"domain": [0, 100], "nice": false}, "axis": {"values": [0,25,50,75,100], "title": "Latency (ms)"}}, "x2": {"datum": 100}, "y": {"datum": 0, "type": "quantitative", "scale": {"domain": [-40, 60], "nice": false}, "axis": {"values": [-40,-15,10,35,60], "title": "Amplitude (µV)", "titlePadding": 4}}}},
     {"transform": [{"filter": "datum.p === 'baseline'"}], "mark": "line", "encoding": {"x": {"field": "x", "type": "quantitative", "scale": {"domain": [0, 100], "nice": false}, "axis": {"values": [0,25,50,75,100], "title": "Latency (ms)"}}, "y": {"field": "y", "type": "quantitative", "scale": {"domain": [-40, 60], "nice": false}, "axis": {"values": [-40,-15,10,35,60], "title": "Amplitude (µV)", "titlePadding": 4}}, "strokeDash": {"field": "g", "type": "nominal", "scale": {"domain": ["Healthy", "EAE EON", "EAE LON"], "range": [[1, 0], [2.5, 3], [7, 4]]}, "legend": {"orient": "none", "legendX": 637, "legendY": 431, "title": null, "symbolType": "stroke", "symbolSize": 1000, "symbolStrokeWidth": 2.5, "symbolStrokeColor": "black", "labelFont": "Lato", "labelFontSize": 14, "labelColor": "#262626", "rowPadding": -11, "labelOffset": 8}}}},
     {"data": {"values": [{"x": 63.4, "y": 52.4, "label": "N1"}]}, "mark": {"type": "text", "align": "left", "baseline": "middle", "font": "Lato", "fontSize": 13, "color": "#262626"}, "encoding": {"x": {"field": "x", "type": "quantitative"}, "y": {"field": "y", "type": "quantitative"}, "text": {"field": "label"}}},
     {"data": {"values": [{"x": 62.2, "y": 49.4, "x2": 55.8, "y2": 45.8}]}, "mark": {"type": "rule", "color": "black", "strokeWidth": 1.3}, "encoding": {"x": {"field": "x", "type": "quantitative"}, "y": {"field": "y", "type": "quantitative"}, "x2": {"field": "x2"}, "y2": {"field": "y2"}}},
     {"data": {"values": [{"x": 54.6, "y": 44.9}]}, "mark": {"type": "point", "shape": "triangle-up", "angle": 244, "filled": true, "color": "black", "opacity": 1, "size": 45}, "encoding": {"x": {"field": "x", "type": "quantitative"}, "y": {"field": "y", "type": "quantitative"}}}
    ]},
   {"width": 184, "height": 129, "title": {"text": "7 dpi", "offset": 5},
    "layer": [
     {"data": {"values": [{"zero": 0}]}, "mark": {"type": "rule", "color": "#bfbfbf", "strokeWidth": 1}, "encoding": {"x": {"datum": 0, "type": "quantitative", "scale": {"domain": [0, 100], "nice": false}, "axis": {"values": [0,25,50,75,100], "title": "Latency (ms)"}}, "x2": {"datum": 100}, "y": {"datum": 0, "type": "quantitative", "scale": {"domain": [-40, 60], "nice": false}, "axis": {"values": [-40,-15,10,35,60], "title": "Amplitude (µV)"}}}},
     {"transform": [{"filter": "datum.p === '7 dpi'"}], "mark": "line", "encoding": {"x": {"field": "x", "type": "quantitative", "scale": {"domain": [0, 100], "nice": false}, "axis": {"values": [0,25,50,75,100], "title": "Latency (ms)"}}, "y": {"field": "y", "type": "quantitative", "scale": {"domain": [-40, 60], "nice": false}, "axis": {"values": [-40,-15,10,35,60], "title": "Amplitude (µV)"}}, "strokeDash": {"field": "g", "type": "nominal", "scale": {"domain": ["Healthy", "EAE EON", "EAE LON"], "range": [[1, 0], [2.5, 3], [7, 4]]}, "legend": {"orient": "none", "legendX": 637, "legendY": 431, "title": null, "symbolType": "stroke", "symbolSize": 1000, "symbolStrokeWidth": 2.5, "symbolStrokeColor": "black", "labelFont": "Lato", "labelFontSize": 14, "labelColor": "#262626", "rowPadding": -11, "labelOffset": 8}}}}
    ]},
   {"width": 183, "height": 122, "title": {"text": "11 dpi", "offset": 5},
    "layer": [
     {"data": {"values": [{"zero": 0}]}, "mark": {"type": "rule", "color": "#bfbfbf", "strokeWidth": 1}, "encoding": {"x": {"datum": 0, "type": "quantitative", "scale": {"domain": [0, 100], "nice": false}, "axis": {"values": [0,25,50,75,100], "title": "Latency (ms)"}}, "x2": {"datum": 100}, "y": {"datum": 0, "type": "quantitative", "scale": {"domain": [-40, 60], "nice": false}, "axis": {"values": [-40,-15,10,35,60], "title": "Amplitude (µV)"}}}},
     {"transform": [{"filter": "datum.p === '11 dpi'"}], "mark": "line", "encoding": {"x": {"field": "x", "type": "quantitative", "scale": {"domain": [0, 100], "nice": false}, "axis": {"values": [0,25,50,75,100], "title": "Latency (ms)"}}, "y": {"field": "y", "type": "quantitative", "scale": {"domain": [-40, 60], "nice": false}, "axis": {"values": [-40,-15,10,35,60], "title": "Amplitude (µV)"}}, "strokeDash": {"field": "g", "type": "nominal", "scale": {"domain": ["Healthy", "EAE EON", "EAE LON"], "range": [[1, 0], [2.5, 3], [7, 4]]}, "legend": {"orient": "none", "legendX": 637, "legendY": 431, "title": null, "symbolType": "stroke", "symbolSize": 1000, "symbolStrokeWidth": 2.5, "symbolStrokeColor": "black", "labelFont": "Lato", "labelFontSize": 14, "labelColor": "#262626", "rowPadding": -11, "labelOffset": 8}}}}
    ]}
  ]},
  {"spacing": 41, "hconcat": [
   {"width": 184, "height": 130, "title": {"text": "15 dpi", "offset": 3},
    "layer": [
     {"data": {"values": [{"zero": 0}]}, "mark": {"type": "rule", "color": "#bfbfbf", "strokeWidth": 1}, "encoding": {"x": {"datum": 0, "type": "quantitative", "scale": {"domain": [0, 100], "nice": false}, "axis": {"values": [0,25,50,75,100], "title": "Latency (ms)"}}, "x2": {"datum": 100}, "y": {"datum": 0, "type": "quantitative", "scale": {"domain": [-40, 60], "nice": false}, "axis": {"values": [-40,-15,10,35,60], "title": "Amplitude (µV)", "titlePadding": 0}}}},
     {"transform": [{"filter": "datum.p === '15 dpi'"}], "mark": "line", "encoding": {"x": {"field": "x", "type": "quantitative", "scale": {"domain": [0, 100], "nice": false}, "axis": {"values": [0,25,50,75,100], "title": "Latency (ms)"}}, "y": {"field": "y", "type": "quantitative", "scale": {"domain": [-40, 60], "nice": false}, "axis": {"values": [-40,-15,10,35,60], "title": "Amplitude (µV)", "titlePadding": 0}}, "strokeDash": {"field": "g", "type": "nominal", "scale": {"domain": ["Healthy", "EAE EON", "EAE LON"], "range": [[1, 0], [2.5, 3], [7, 4]]}, "legend": {"orient": "none", "legendX": 637, "legendY": 431, "title": null, "symbolType": "stroke", "symbolSize": 1000, "symbolStrokeWidth": 2.5, "symbolStrokeColor": "black", "labelFont": "Lato", "labelFontSize": 14, "labelColor": "#262626", "rowPadding": -11, "labelOffset": 8}}}}
    ]},
   {"width": 172, "height": 130, "title": {"text": "19 dpi", "offset": 3},
    "layer": [
     {"data": {"values": [{"zero": 0}]}, "mark": {"type": "rule", "color": "#bfbfbf", "strokeWidth": 1}, "encoding": {"x": {"datum": 0, "type": "quantitative", "scale": {"domain": [0, 100], "nice": false}, "axis": {"values": [0,25,50,75,100], "title": "Latency (ms)"}}, "x2": {"datum": 100}, "y": {"datum": 0, "type": "quantitative", "scale": {"domain": [-40, 60], "nice": false}, "axis": {"values": [-40,-15,10,35,60], "title": "Amplitude (µV)"}}}},
     {"transform": [{"filter": "datum.p === '19 dpi'"}], "mark": "line", "encoding": {"x": {"field": "x", "type": "quantitative", "scale": {"domain": [0, 100], "nice": false}, "axis": {"values": [0,25,50,75,100], "title": "Latency (ms)"}}, "y": {"field": "y", "type": "quantitative", "scale": {"domain": [-40, 60], "nice": false}, "axis": {"values": [-40,-15,10,35,60], "title": "Amplitude (µV)"}}, "strokeDash": {"field": "g", "type": "nominal", "scale": {"domain": ["Healthy", "EAE EON", "EAE LON"], "range": [[1, 0], [2.5, 3], [7, 4]]}, "legend": {"orient": "none", "legendX": 637, "legendY": 431, "title": null, "symbolType": "stroke", "symbolSize": 1000, "symbolStrokeWidth": 2.5, "symbolStrokeColor": "black", "labelFont": "Lato", "labelFontSize": 14, "labelColor": "#262626", "rowPadding": -11, "labelOffset": 8}}}}
    ]},
   {"width": 173, "height": 130, "title": {"text": "23 dpi", "offset": 3},
    "layer": [
     {"data": {"values": [{"zero": 0}]}, "mark": {"type": "rule", "color": "#bfbfbf", "strokeWidth": 1}, "encoding": {"x": {"datum": 0, "type": "quantitative", "scale": {"domain": [0, 100], "nice": false}, "axis": {"values": [0,25,50,75,100], "title": "Latency (ms)"}}, "x2": {"datum": 100}, "y": {"datum": 0, "type": "quantitative", "scale": {"domain": [-40, 60], "nice": false}, "axis": {"values": [-40,-15,10,35,60], "title": "Amplitude (µV)"}}}},
     {"transform": [{"filter": "datum.p === '23 dpi'"}], "mark": "line", "encoding": {"x": {"field": "x", "type": "quantitative", "scale": {"domain": [0, 100], "nice": false}, "axis": {"values": [0,25,50,75,100], "title": "Latency (ms)"}}, "y": {"field": "y", "type": "quantitative", "scale": {"domain": [-40, 60], "nice": false}, "axis": {"values": [-40,-15,10,35,60], "title": "Amplitude (µV)"}}, "strokeDash": {"field": "g", "type": "nominal", "scale": {"domain": ["Healthy", "EAE EON", "EAE LON"], "range": [[1, 0], [2.5, 3], [7, 4]]}, "legend": {"orient": "none", "legendX": 637, "legendY": 431, "title": null, "symbolType": "stroke", "symbolSize": 1000, "symbolStrokeWidth": 2.5, "symbolStrokeColor": "black", "labelFont": "Lato", "labelFontSize": 14, "labelColor": "#262626", "rowPadding": -11, "labelOffset": 8}}}}
    ]}
  ]}
 ]},
 {"spacing": 61, "hconcat": [
   {"width": 14, "height": 20, "data": {"values": []}, "mark": "point"},
   {"width": 173, "height": 131, "title": {"text": "31 dpi", "offset": -2},
    "layer": [
     {"data": {"values": [{"zero": 0}]}, "mark": {"type": "rule", "color": "#bfbfbf", "strokeWidth": 1}, "encoding": {"x": {"datum": 0, "type": "quantitative", "scale": {"domain": [0, 100], "nice": false}, "axis": {"values": [0,25,50,75,100], "title": "Latency (ms)"}}, "x2": {"datum": 100}, "y": {"datum": 0, "type": "quantitative", "scale": {"domain": [-40, 60], "nice": false}, "axis": {"values": [-40,-15,10,35,60], "title": "Amplitude (µV)"}}}},
     {"transform": [{"filter": "datum.p === '31 dpi'"}], "mark": "line", "encoding": {"x": {"field": "x", "type": "quantitative", "scale": {"domain": [0, 100], "nice": false}, "axis": {"values": [0,25,50,75,100], "title": "Latency (ms)"}}, "y": {"field": "y", "type": "quantitative", "scale": {"domain": [-40, 60], "nice": false}, "axis": {"values": [-40,-15,10,35,60], "title": "Amplitude (µV)"}}, "strokeDash": {"field": "g", "type": "nominal", "scale": {"domain": ["Healthy", "EAE EON", "EAE LON"], "range": [[1, 0], [2.5, 3], [7, 4]]}, "legend": {"orient": "none", "legendX": 637, "legendY": 431, "title": null, "symbolType": "stroke", "symbolSize": 1000, "symbolStrokeWidth": 2.5, "symbolStrokeColor": "black", "labelFont": "Lato", "labelFontSize": 14, "labelColor": "#262626", "rowPadding": -11, "labelOffset": 8}}}}
    ]},
   {"width": 174, "height": 131, "title": {"text": "37 dpi", "offset": -2},
    "layer": [
     {"data": {"values": [{"zero": 0}]}, "mark": {"type": "rule", "color": "#bfbfbf", "strokeWidth": 1}, "encoding": {"x": {"datum": 0, "type": "quantitative", "scale": {"domain": [0, 100], "nice": false}, "axis": {"values": [0,25,50,75,100], "title": "Latency (ms)"}}, "x2": {"datum": 100}, "y": {"datum": 0, "type": "quantitative", "scale": {"domain": [-40, 60], "nice": false}, "axis": {"values": [-40,-15,10,35,60], "title": "Amplitude (µV)"}}}},
     {"transform": [{"filter": "datum.p === '37 dpi'"}], "mark": "line", "encoding": {"x": {"field": "x", "type": "quantitative", "scale": {"domain": [0, 100], "nice": false}, "axis": {"values": [0,25,50,75,100], "title": "Latency (ms)"}}, "y": {"field": "y", "type": "quantitative", "scale": {"domain": [-40, 60], "nice": false}, "axis": {"values": [-40,-15,10,35,60], "title": "Amplitude (µV)"}}, "strokeDash": {"field": "g", "type": "nominal", "scale": {"domain": ["Healthy", "EAE EON", "EAE LON"], "range": [[1, 0], [2.5, 3], [7, 4]]}, "legend": {"orient": "none", "legendX": 637, "legendY": 431, "title": null, "symbolType": "stroke", "symbolSize": 1000, "symbolStrokeWidth": 2.5, "symbolStrokeColor": "black", "labelFont": "Lato", "labelFontSize": 14, "labelColor": "#262626", "rowPadding": -11, "labelOffset": 8}}}}
    ]}
 ]}
]
}
